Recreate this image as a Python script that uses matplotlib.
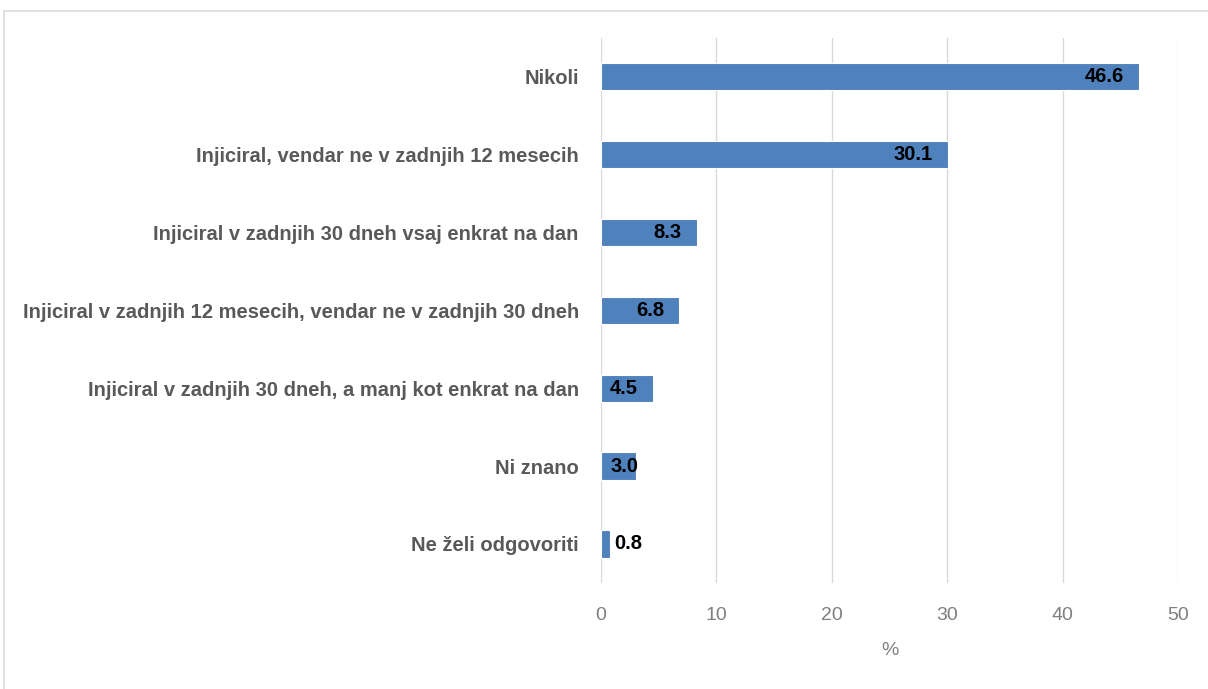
import matplotlib.pyplot as plt
from matplotlib.patches import Rectangle

# data
categories = [
    "Nikoli",
    "Injiciral, vendar ne v zadnjih 12 mesecih",
    "Injiciral v zadnjih 30 dneh vsaj enkrat na dan",
    "Injiciral v zadnjih 12 mesecih, vendar ne v zadnjih 30 dneh",
    "Injiciral v zadnjih 30 dneh, a manj kot enkrat na dan",
    "Ni znano",
    "Ne želi odgovoriti",
]
values = [46.6, 30.1, 8.3, 6.8, 4.5, 3.0, 0.8]
x_ticks = [0, 10, 20, 30, 40, 50]

plt.rcParams['font.family'] = ['Liberation Sans', 'DejaVu Sans']

fig = plt.figure(figsize=(12.08, 6.89), dpi=100)
ax = fig.add_axes([0.4975, 0.154, 0.4777, 0.791])

# chart border
fig.patches.append(Rectangle((0.0035, -0.01), 1.0, 0.994, transform=fig.transFigure,
                             fill=False, edgecolor="#d9d9d9", linewidth=1.2))

y = list(range(len(categories)))
ax.barh(y, values, height=0.35, color="#4f81bd", edgecolor="white", linewidth=0.8, zorder=3)

for yi, v in zip(y, values):
    if v >= 4:
        ax.annotate(f"{v:.1f}", (v, yi), xytext=(-11, 0), textcoords="offset points",
                    ha="right", va="center", fontsize=14.5, fontweight="bold", zorder=4)
    elif v >= 2:
        ax.annotate(f"{v:.1f}", (0, yi), xytext=(6.5, 0), textcoords="offset points",
                    ha="left", va="center", fontsize=14.5, fontweight="bold", zorder=4)
    else:
        ax.annotate(f"{v:.1f}", (v, yi), xytext=(3, 0), textcoords="offset points",
                    ha="left", va="center", fontsize=14.5, fontweight="bold", zorder=4)

ax.set_ylim(len(categories) - 0.5, -0.5)
ax.set_xlim(0, 50)
ax.set_xticks(x_ticks)
ax.set_yticks(y)
ax.set_yticklabels(categories, fontsize=14.5, fontweight="bold", color="#595959")
ax.tick_params(axis="x", labelsize=14, labelcolor="#7f7f7f", length=0, pad=17)
ax.tick_params(axis="y", length=0, pad=16)
ax.grid(axis="x", color="#d9d9d9", linewidth=1, zorder=0)
for s in ax.spines.values():
    s.set_visible(False)
ax.set_xlabel("%", fontsize=14, color="#7f7f7f", labelpad=13)

fig.savefig("out.png", dpi=100)
